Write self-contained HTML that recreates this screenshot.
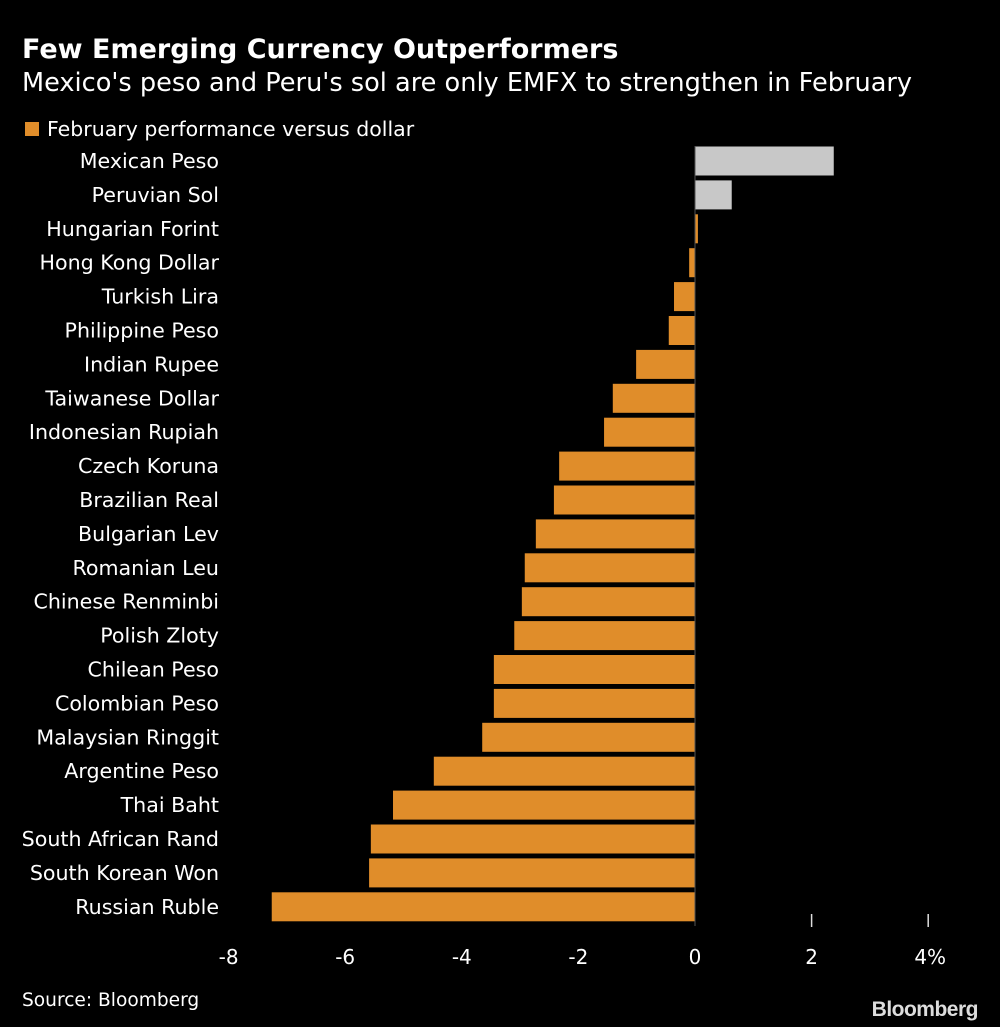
<!DOCTYPE html>
<html><head><meta charset="utf-8"><style>
body{margin:0;background:#000;width:1000px;height:1027px;overflow:hidden;font-family:"Liberation Sans","DejaVu Sans",sans-serif;}
</style></head><body>
<svg id="chart" width="1000" height="1027" xmlns="http://www.w3.org/2000/svg" style="display:block">
<rect width="1000" height="1027" fill="#000"/>
<text x="22" y="58" fill="#fff" font-size="27" font-weight="bold" font-family="DejaVu Sans, sans-serif">Few Emerging Currency Outperformers</text>
<text x="22" y="91" fill="#fff" font-size="25.6" font-family="DejaVu Sans, sans-serif">Mexico's peso and Peru's sol are only EMFX to strengthen in February</text>
<rect x="25" y="122" width="14" height="14" fill="#e08d2a"/>
<text x="47" y="136" fill="#fff" font-size="20.5" font-family="DejaVu Sans, sans-serif">February performance versus dollar</text>
<g id="bars"></g>
<g id="axis"></g>
<text x="22" y="1006" fill="#fff" font-size="18.6" font-family="DejaVu Sans, sans-serif">Source: Bloomberg</text>
<text x="978" y="1016" text-anchor="end" fill="#ddd" font-size="21" font-weight="bold" letter-spacing="-0.5">Bloomberg</text>
</svg>
<script>
const categories=["Mexican Peso","Peruvian Sol","Hungarian Forint","Hong Kong Dollar","Turkish Lira","Philippine Peso","Indian Rupee","Taiwanese Dollar","Indonesian Rupiah","Czech Koruna","Brazilian Real","Bulgarian Lev","Romanian Leu","Chinese Renminbi","Polish Zloty","Chilean Peso","Colombian Peso","Malaysian Ringgit","Argentine Peso","Thai Baht","South African Rand","South Korean Won","Russian Ruble"];
const values=[2.38,0.63,0.05,-0.1,-0.36,-0.45,-1.01,-1.41,-1.56,-2.33,-2.42,-2.73,-2.92,-2.97,-3.10,-3.45,-3.45,-3.65,-4.48,-5.18,-5.56,-5.59,-7.26];
const tickValues=[-8,-6,-4,-2,0,2,4];
const tickLabels=["-8","-6","-4","-2","0","2","4%"];
const NS="http://www.w3.org/2000/svg";
const x=v=>695+v*58.3;
const yc=i=>161+i*33.9;
const bars=document.getElementById('bars'),axis=document.getElementById('axis');
function mk(tag,attrs,parent){const e=document.createElementNS(NS,tag);for(const k in attrs)e.setAttribute(k,attrs[k]);parent.appendChild(e);return e;}
categories.forEach((c,i)=>{
  const v=values[i];
  const r=mk('rect',{x:Math.min(x(0),x(v)),y:yc(i)-14.5,width:Math.abs(x(v)-x(0)),height:29,fill:v>0.2?'#c8c8c8':'#e08d2a'},bars);
  
  
  const t=mk('text',{x:219,y:yc(i)+7,'text-anchor':'end',fill:'#fff','font-size':20.6,'font-family':'DejaVu Sans, sans-serif'},bars);
  t.textContent=c;
  
  
});
const zl=mk('line',{x1:x(0),x2:x(0),y1:146,y2:926,stroke:'#555','stroke-width':1},axis);


tickValues.forEach((v,i)=>{
  if(v>0){const l=mk('line',{x1:x(v),x2:x(v),y1:914,y2:927,stroke:'#ddd','stroke-width':1.5},axis);
  
  }
  const t=mk('text',{x:x(v)+(v===4?2:0),y:964,'text-anchor':'middle',fill:'#fff','font-size':20,'font-family':'DejaVu Sans, sans-serif'},axis);
  t.textContent=tickLabels[i];
  
  
});
</script>
</body></html>
